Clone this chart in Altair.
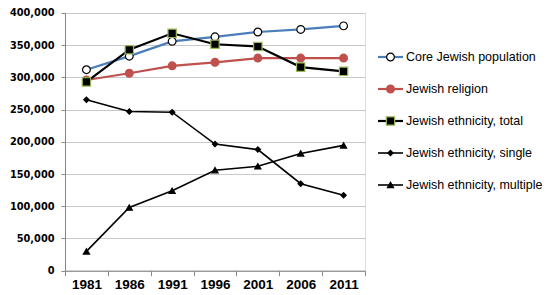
import altair as alt
import pandas as pd

years = ["1981", "1986", "1991", "1996", "2001", "2006", "2011"]
series = [
    "Core Jewish population",
    "Jewish religion",
    "Jewish ethnicity, total",
    "Jewish ethnicity, single",
    "Jewish ethnicity, multiple",
]
core = [312000, 333000, 356000, 363000, 370500, 374500, 380000]
religion = [296000, 306500, 318000, 323500, 330000, 330000, 330000]
eth_total = [293000, 343000, 368500, 351500, 348000, 316000, 309500]
eth_single = [265500, 247000, 246000, 196500, 188000, 135000, 117000]
eth_multiple = [30000, 98000, 124000, 156000, 162000, 182000, 194500]
values = [core, religion, eth_total, eth_single, eth_multiple]

line_colors = ["#4a7ebb", "#c0504d", "#000000", "#000000", "#000000"]
shapes = ["circle", "circle", "square", "diamond", "triangle-up"]
fills = ["#ffffff", "#c0504d", "#000000", "#000000", "#000000"]
strokes = ["#000000", "#c0504d", "#9bbb59", "#000000", "#000000"]
sizes = [60, 60, 70, 28, 38]
line_widths = [2.2, 2.2, 2.2, 1.6, 1.6]

rows = []
for s, vals in zip(series, values):
    for y, v in zip(years, vals):
        rows.append({"series": s, "year": y, "value": v})
df = pd.DataFrame(rows)
legend_df = pd.DataFrame({"series": series})

W, H = 300, 257.7

x_enc = alt.X(
    "year:N",
    sort=years,
    scale=alt.Scale(type="band", paddingInner=0, paddingOuter=0),
    axis=alt.Axis(
        title=None, labelAngle=0, tickBand="extent", tickSize=5, tickColor="#868686",
        domainColor="#868686", labelFont="Liberation Sans Narrow, Liberation Sans",
        labelFontSize=13.5, labelFontWeight="bold", labelColor="#000000",
        labelPadding=2, grid=False,
    ),
)
y_enc = alt.Y(
    "value:Q",
    scale=alt.Scale(domain=[0, 400000], nice=False),
    axis=alt.Axis(
        title=None, values=list(range(0, 400001, 50000)), format=",.0f", tickSize=4,
        tickColor="#868686", domainColor="#868686", gridColor="#c8c8c8",
        labelFont="DejaVu Sans", labelFontSize=9.8, labelFontWeight="bold",
        labelColor="#000000", labelPadding=7,
    ),
)

base = alt.Chart(df)
layers = []
for i, s in enumerate(series):
    sub = base.transform_filter(alt.datum.series == s)
    layers.append(
        sub.mark_line(color=line_colors[i], strokeWidth=line_widths[i]).encode(x=x_enc, y=y_enc)
    )
    layers.append(
        sub.mark_point(
            shape=shapes[i], filled=True, fill=fills[i], stroke=strokes[i],
            strokeWidth=1.2, size=sizes[i], opacity=1,
        ).encode(x=x_enc, y=y_enc)
    )
main = alt.layer(*layers)

leg_y = alt.Y(
    "series:N", sort=series,
    scale=alt.Scale(type="point", domain=series, range=[28, 188]), axis=None,
)
leg = alt.Chart(legend_df)
legend_layers = []
for i, s in enumerate(series):
    sub = leg.transform_filter(alt.datum.series == s)
    legend_layers.append(
        sub.mark_rule(color=line_colors[i], strokeWidth=line_widths[i]).encode(
            x=alt.value(313), x2=alt.value(338), y=leg_y
        )
    )
    legend_layers.append(
        sub.mark_point(
            shape=shapes[i], filled=True, fill=fills[i], stroke=strokes[i],
            strokeWidth=1.2, size=sizes[i], opacity=1,
        ).encode(x=alt.value(325.5), y=leg_y)
    )
legend_layers.append(
    leg.mark_text(
        align="left", baseline="middle", font="Liberation Sans", fontSize=12.5, color="#000000"
    ).encode(x=alt.value(341), y=leg_y, text="series:N")
)
legend = alt.layer(*legend_layers)

chart = (
    alt.layer(main, legend)
    .resolve_scale(y="independent")
    .properties(
        width=W, height=H,
        autosize=alt.AutoSizeParams(type="none"),
        padding={"left": 57, "top": 5, "right": 180, "bottom": 24},
    )
    .configure_view(stroke=None)
    .configure(background="#ffffff")
)

chart.save("out.html", embed_options={"renderer": "svg", "actions": False})
